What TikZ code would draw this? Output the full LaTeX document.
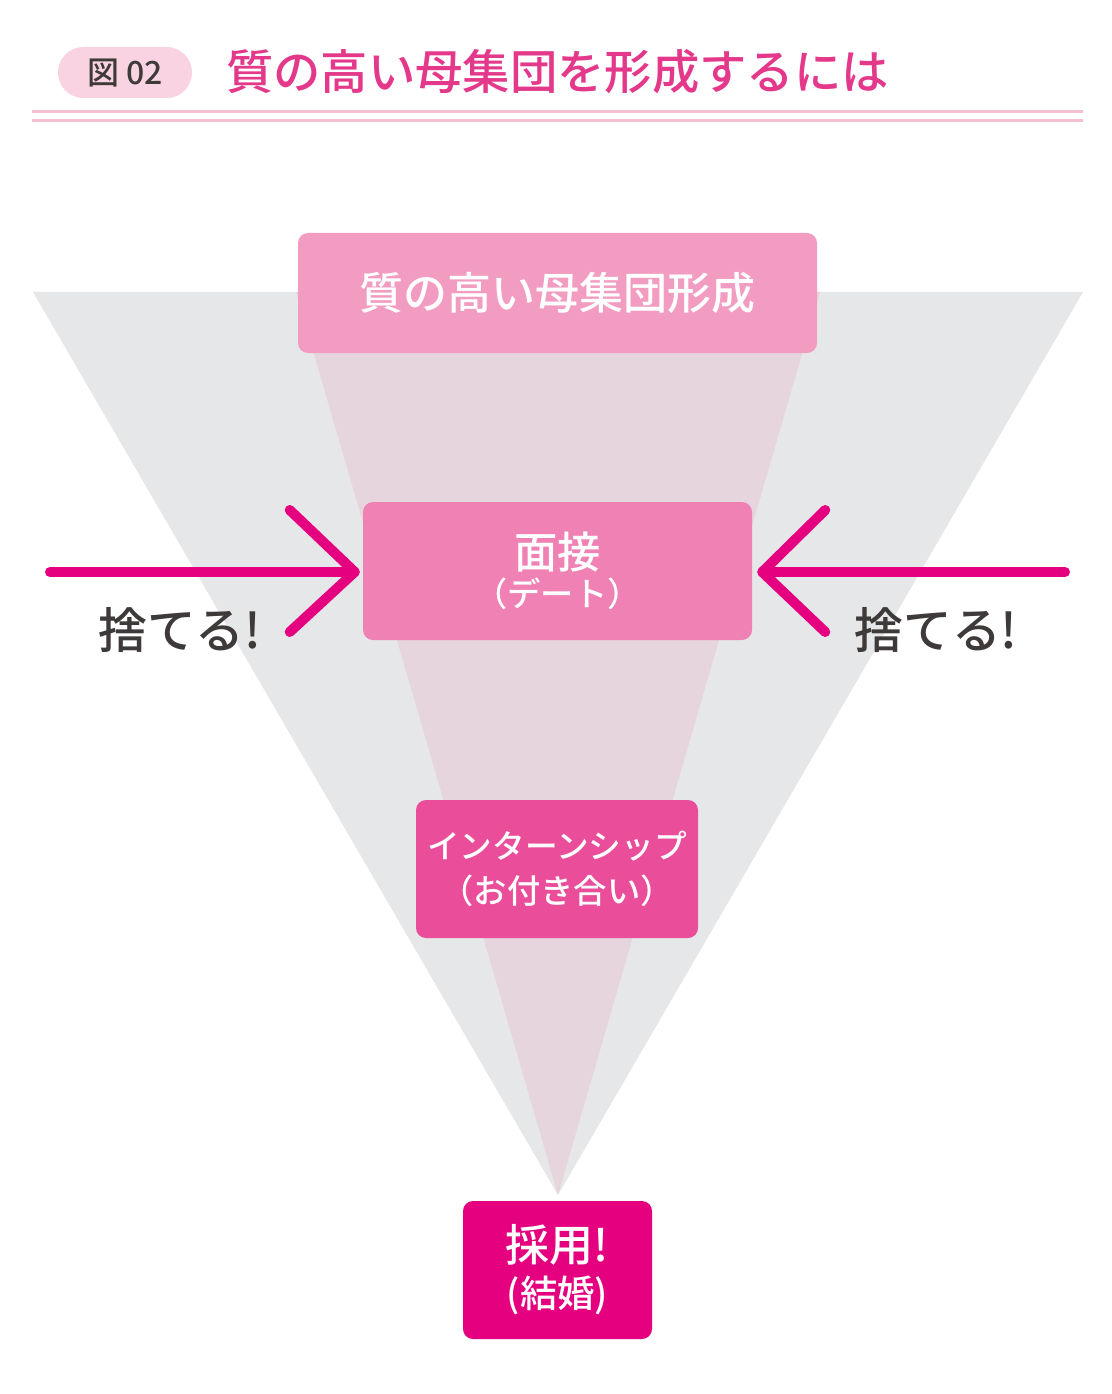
\documentclass[tikz,border=0pt]{standalone}
\usepackage{fontspec}
\IfFontExistsTF{Noto Sans CJK JP Medium}
	{\newfontfamily\jpfont{Noto Sans CJK JP}[BoldFont={Noto Sans CJK JP Medium}]}
	{\newfontfamily\jpfont{Noto Sans CJK JP}}
\usetikzlibrary{calc}
\definecolor{funnelgray}{HTML}{E6E7E8}
\definecolor{funnelpink}{HTML}{E6D5DD}
\definecolor{titlepink}{HTML}{E4388B}
\definecolor{rulepink}{HTML}{F6BED3}
\definecolor{badgepink}{HTML}{FAD3E2}
\definecolor{boxone}{HTML}{F29CC1}
\definecolor{boxtwo}{HTML}{EF81B4}
\definecolor{boxthree}{HTML}{EA4D9A}
\definecolor{boxfour}{HTML}{E4007F}
\definecolor{inkgray}{HTML}{3E3A39}
\tikzset{
	stagebox/.style={rounded corners=7.5pt, inner sep=0pt, align=center, text=white, font=\jpfont\bfseries},
	throwline/.style={line width=7.5pt, color=boxfour, line cap=round, line join=round},
	throwtext/.style={text=inkgray, font=\jpfont\bfseries\fontsize{36.5}{40}\selectfont},
}

\begin{document}
\begin{tikzpicture}[x=0.75pt, y=-0.75pt]
			%%%%% START %%%%%
			
			\useasboundingbox (0, 0) rectangle (1111, 1394);
			\fill[white] (0, 0) rectangle (1111, 1394);
			
			% heading
			\fill[badgepink, rounded corners=19pt] (58, 47) rectangle (192, 98);
			\node[text=inkgray, font=\jpfont\bfseries\fontsize{24}{28}\selectfont] (badge) at (125, 73) {図 02};
			\node[anchor=west, inner sep=0pt, text=titlepink, font=\jpfont\bfseries\fontsize{35.5}{40}\selectfont] (title) at (226, 72) {質の高い母集団を形成するには};
			\draw[line width=2.25pt, rulepink] (32, 112) -- (1083, 112);
			\draw[line width=2.25pt, rulepink] (32, 121) -- (1083, 121);
			
			% funnel
			\fill[funnelgray] (33, 292) -- (1083, 292) -- (558, 1195) -- cycle;
			\fill[funnelpink] (296, 292) -- (820, 292) -- (558, 1195) -- cycle;
			
			% stages
			\node[stagebox, fill=boxone, minimum width=389.25pt, minimum height=90pt,
				font=\jpfont\bfseries\fontsize{33}{38}\selectfont] (quality) at (557.5, 293) {質の高い母集団形成};
			\node[stagebox, fill=boxtwo, minimum width=291.75pt, minimum height=103.5pt] (interview) at (557.5, 571)
				{\fontsize{32.5}{32}\selectfont 面接\\[3.5pt]\fontsize{25}{28}\selectfont （デート）};
			\node[stagebox, fill=boxthree, minimum width=211.5pt, minimum height=103.5pt] (intern) at (557, 869)
				{\fontsize{24.5}{24}\selectfont インターンシップ\\[9pt]\fontsize{25}{28}\selectfont （お付き合い）};
			\node[stagebox, fill=boxfour, minimum width=141.75pt, minimum height=103.5pt] (hire) at (557.5, 1270)
				{\fontsize{33}{30}\selectfont 採用!\\[7pt]\fontsize{28}{30}\selectfont (結婚)};
			
			% discard arrows
			\coordinate (lstart) at (50, 572);
			\coordinate (rstart) at (1065, 572);
			\coordinate (ltip) at ($(interview.west)+(-8, 1)$);
			\coordinate (rtip) at ($(interview.east)+(10, 1)$);
			\draw[throwline] (lstart) -- (ltip);
			\draw[throwline] ($(ltip)+(-65, -62)$) -- (ltip) -- ($(ltip)+(-65, 60)$);
			\draw[throwline] (rstart) -- (rtip);
			\draw[throwline] ($(rtip)+(63, -62)$) -- (rtip) -- ($(rtip)+(63, 60)$);
			
			\node[throwtext] (lthrow) at (180, 630) {捨てる!};
			\node[throwtext] (rthrow) at (936, 630) {捨てる!};
			
			%%%%% END %%%%%
\end{tikzpicture}
\end{document}
